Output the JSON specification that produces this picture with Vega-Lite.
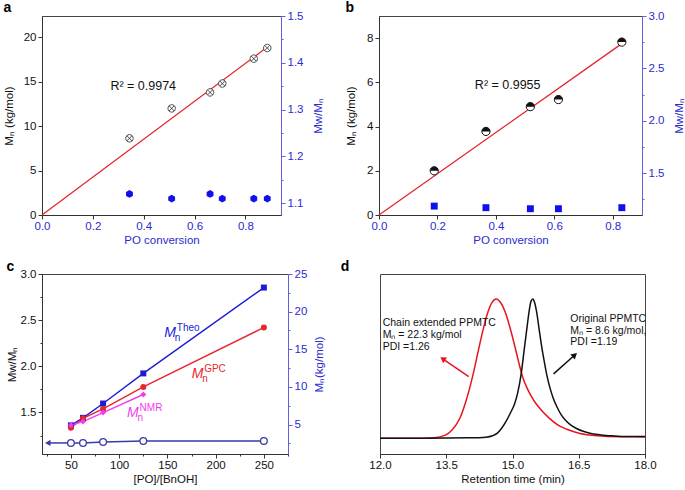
{
"$schema": "https://vega.github.io/schema/vega-lite/v6.json",
"background": "white",
"padding": {"left": 3, "top": 0, "right": 0, "bottom": 0},
"config": {
  "font": "Liberation Sans",
  "view": {"stroke": "#444", "strokeWidth": 1},
  "axis": {"grid": false, "labelFontSize": 11.5, "titleFontSize": 11.5, "titleFontWeight": "normal", "labelColor": "#111", "titleColor": "#111", "domainColor": "#333", "tickColor": "#333", "labelPadding": 2, "titlePadding": 5, "labelFlush": false, "labelOverlap": false, "tickSize": 4},
  "axisX": {"labelPadding": 1, "titlePadding": 3},
  "title": {"fontSize": 14, "fontWeight": "bold", "anchor": "start", "frame": "bounds", "baseline": "alphabetic", "color": "#000"}
},
"datasets": {
  "a_fit": [{"conv": 0, "mn": 0}, {"conv": 0.886, "mn": 18.9}],
  "a_points": [
    {"conv": 0.344, "mn": 8.63, "pdi": 1.12},
    {"conv": 0.51, "mn": 12.0, "pdi": 1.11},
    {"conv": 0.661, "mn": 13.8, "pdi": 1.12},
    {"conv": 0.709, "mn": 14.8, "pdi": 1.11},
    {"conv": 0.833, "mn": 17.6, "pdi": 1.11},
    {"conv": 0.886, "mn": 18.8, "pdi": 1.11}
  ],
  "a_text": [{"conv": 0.269, "mn": 14.5, "label": "R² = 0.9974"}],
  "b_fit": [{"conv": 0, "mn": 0}, {"conv": 0.831, "mn": 7.75}],
  "b_points": [
    {"conv": 0.189, "mn": 2.0, "pdi": 1.185},
    {"conv": 0.366, "mn": 3.78, "pdi": 1.17},
    {"conv": 0.518, "mn": 4.9, "pdi": 1.16},
    {"conv": 0.614, "mn": 5.22, "pdi": 1.16},
    {"conv": 0.831, "mn": 7.82, "pdi": 1.17}
  ],
  "b_text": [{"conv": 0.328, "mn": 5.86, "label": "R² = 0.9955"}],
  "c_mn": [
    {"ratio": 50, "mn": 4.9, "series": "Theo"},
    {"ratio": 62.5, "mn": 5.9, "series": "Theo"},
    {"ratio": 83.3, "mn": 7.8, "series": "Theo"},
    {"ratio": 125, "mn": 11.8, "series": "Theo"},
    {"ratio": 250, "mn": 23.2, "series": "Theo"},
    {"ratio": 50, "mn": 4.6, "series": "GPC"},
    {"ratio": 62.5, "mn": 5.84, "series": "GPC"},
    {"ratio": 83.3, "mn": 7.08, "series": "GPC"},
    {"ratio": 125, "mn": 10.0, "series": "GPC"},
    {"ratio": 250, "mn": 17.9, "series": "GPC"},
    {"ratio": 50, "mn": 4.95, "series": "NMR"},
    {"ratio": 62.5, "mn": 5.4, "series": "NMR"},
    {"ratio": 83.3, "mn": 6.6, "series": "NMR"},
    {"ratio": 125, "mn": 9.0, "series": "NMR"}
  ],
  "c_pdi": [
    {"ratio": 50, "pdi": 1.17},
    {"ratio": 62.5, "pdi": 1.17},
    {"ratio": 83.3, "pdi": 1.18},
    {"ratio": 125, "pdi": 1.19},
    {"ratio": 250, "pdi": 1.19}
  ],
  "c_arrow": [{"ratio": 26, "ratio2": 50, "pdi": 1.17}],
  "c_lab": [
    {"ratio": 146.8, "mn": 17.17, "series": "Theo"},
    {"ratio": 175.1, "mn": 11.72, "series": "GPC"},
    {"ratio": 108.2, "mn": 6.58, "series": "NMR"}
  ],
  "d_curves": [
    {"t": 12.0, "signal": 0, "sample": "extended"},
    {"t": 12.5, "signal": 0, "sample": "extended"},
    {"t": 13.0, "signal": 0.001, "sample": "extended"},
    {"t": 13.28, "signal": 0.006, "sample": "extended"},
    {"t": 13.43, "signal": 0.017, "sample": "extended"},
    {"t": 13.53, "signal": 0.032, "sample": "extended"},
    {"t": 13.63, "signal": 0.06, "sample": "extended"},
    {"t": 13.73, "signal": 0.1, "sample": "extended"},
    {"t": 13.83, "signal": 0.16, "sample": "extended"},
    {"t": 13.93, "signal": 0.25, "sample": "extended"},
    {"t": 14.03, "signal": 0.36, "sample": "extended"},
    {"t": 14.13, "signal": 0.49, "sample": "extended"},
    {"t": 14.23, "signal": 0.635, "sample": "extended"},
    {"t": 14.33, "signal": 0.775, "sample": "extended"},
    {"t": 14.43, "signal": 0.893, "sample": "extended"},
    {"t": 14.53, "signal": 0.972, "sample": "extended"},
    {"t": 14.63, "signal": 1.0, "sample": "extended"},
    {"t": 14.73, "signal": 0.975, "sample": "extended"},
    {"t": 14.83, "signal": 0.91, "sample": "extended"},
    {"t": 14.93, "signal": 0.81, "sample": "extended"},
    {"t": 15.03, "signal": 0.69, "sample": "extended"},
    {"t": 15.13, "signal": 0.56, "sample": "extended"},
    {"t": 15.23, "signal": 0.44, "sample": "extended"},
    {"t": 15.33, "signal": 0.36, "sample": "extended"},
    {"t": 15.43, "signal": 0.3, "sample": "extended"},
    {"t": 15.53, "signal": 0.25, "sample": "extended"},
    {"t": 15.63, "signal": 0.21, "sample": "extended"},
    {"t": 15.83, "signal": 0.145, "sample": "extended"},
    {"t": 16.03, "signal": 0.095, "sample": "extended"},
    {"t": 16.23, "signal": 0.065, "sample": "extended"},
    {"t": 16.53, "signal": 0.035, "sample": "extended"},
    {"t": 16.93, "signal": 0.018, "sample": "extended"},
    {"t": 17.43, "signal": 0.011, "sample": "extended"},
    {"t": 18.0, "signal": 0.01, "sample": "extended"},
    {"t": 12.0, "signal": 0, "sample": "original"},
    {"t": 13.0, "signal": 0, "sample": "original"},
    {"t": 14.0, "signal": 0.003, "sample": "original"},
    {"t": 14.4, "signal": 0.008, "sample": "original"},
    {"t": 14.55, "signal": 0.018, "sample": "original"},
    {"t": 14.65, "signal": 0.035, "sample": "original"},
    {"t": 14.75, "signal": 0.07, "sample": "original"},
    {"t": 14.85, "signal": 0.12, "sample": "original"},
    {"t": 14.95, "signal": 0.18, "sample": "original"},
    {"t": 15.05, "signal": 0.25, "sample": "original"},
    {"t": 15.12, "signal": 0.33, "sample": "original"},
    {"t": 15.2, "signal": 0.47, "sample": "original"},
    {"t": 15.27, "signal": 0.65, "sample": "original"},
    {"t": 15.33, "signal": 0.8, "sample": "original"},
    {"t": 15.38, "signal": 0.92, "sample": "original"},
    {"t": 15.42, "signal": 0.985, "sample": "original"},
    {"t": 15.46, "signal": 1.0, "sample": "original"},
    {"t": 15.5, "signal": 0.975, "sample": "original"},
    {"t": 15.55, "signal": 0.9, "sample": "original"},
    {"t": 15.6, "signal": 0.79, "sample": "original"},
    {"t": 15.66, "signal": 0.66, "sample": "original"},
    {"t": 15.72, "signal": 0.55, "sample": "original"},
    {"t": 15.78, "signal": 0.45, "sample": "original"},
    {"t": 15.85, "signal": 0.36, "sample": "original"},
    {"t": 15.92, "signal": 0.29, "sample": "original"},
    {"t": 16.0, "signal": 0.23, "sample": "original"},
    {"t": 16.1, "signal": 0.17, "sample": "original"},
    {"t": 16.2, "signal": 0.13, "sample": "original"},
    {"t": 16.3, "signal": 0.1, "sample": "original"},
    {"t": 16.45, "signal": 0.07, "sample": "original"},
    {"t": 16.6, "signal": 0.05, "sample": "original"},
    {"t": 16.8, "signal": 0.033, "sample": "original"},
    {"t": 17.0, "signal": 0.024, "sample": "original"},
    {"t": 17.3, "signal": 0.017, "sample": "original"},
    {"t": 17.6, "signal": 0.013, "sample": "original"},
    {"t": 18.0, "signal": 0.012, "sample": "original"}
  ],
  "d_arrows": [
    {"t": 14.01, "signal": 0.443, "t2": 13.42, "signal2": 0.571, "sample": "extended"},
    {"t": 15.93, "signal": 0.463, "t2": 16.41, "signal2": 0.598, "sample": "original"}
  ],
  "d_heads": [
    {"t": 13.42, "signal": 0.571, "sample": "extended"},
    {"t": 16.41, "signal": 0.598, "sample": "original"}
  ],
  "d_text": [
    {"t": 12.06, "signal": 0.827, "label": "Chain extended PPMTC"},
    {"t": 12.06, "signal": 0.742, "label": "Mₙ = 22.3 kg/mol"},
    {"t": 12.06, "signal": 0.658, "label": "PDI =1.26"},
    {"t": 16.31, "signal": 0.858, "label": "Original PPMTC"},
    {"t": 16.31, "signal": 0.772, "label": "Mₙ = 8.6 kg/mol,"},
    {"t": 16.31, "signal": 0.69, "label": "PDI =1.19"}
  ]
},
"resolve": {"scale": {"color": "independent", "shape": "independent"}},
"spacing": 12,
"vconcat": [
 {
  "hconcat": [
   {
    "width": 239, "height": 199,
    "title": {"text": "a", "offset": -5},
    "layer": [
     {
      "layer": [
       {
        "data": {"name": "a_fit"},
        "mark": {"type": "line", "color": "#e3262b", "strokeWidth": 1.3},
        "encoding": {
          "x": {"field": "conv", "type": "quantitative", "title": "PO conversion", "scale": {"domain": [0, 0.94], "nice": false, "zero": false},
                "axis": {"values": [0, 0.1, 0.2, 0.3, 0.4, 0.5, 0.6, 0.7, 0.8, 0.9], "labelExpr": "round(datum.value*10)%2==0 ? format(datum.value,'.1f') : ''", "tickSize": {"condition": {"test": "round(datum.value*10)%2!=0", "value": 2}, "value": 4}, "labelColor": "#2b2bd0", "titleColor": "#2b2bd0"}},
          "y": {"field": "mn", "type": "quantitative", "title": "Mₙ (kg/mol)", "scale": {"domain": [0, 22.4], "nice": false, "zero": false},
                "axis": {"values": [0, 2.5, 5, 7.5, 10, 12.5, 15, 17.5, 20], "labelExpr": "datum.value%5==0 ? format(datum.value,'d') : ''", "tickSize": {"condition": {"test": "datum.value%5!=0", "value": 2}, "value": 4}, "titlePadding": 8.7}}
        }
       },
       {
        "data": {"name": "a_points"},
        "mark": {"type": "point", "shape": "M-1,0A1,1,0,1,1,1,0A1,1,0,1,1,-1,0Z", "filled": true, "fill": "white", "stroke": "#3a3a3a", "strokeWidth": 0.9, "size": 56, "opacity": 1},
        "encoding": {
          "x": {"field": "conv", "type": "quantitative", "title": "PO conversion", "scale": {"domain": [0, 0.94], "nice": false, "zero": false}},
          "y": {"field": "mn", "type": "quantitative", "title": "Mₙ (kg/mol)", "scale": {"domain": [0, 22.4], "nice": false, "zero": false}}
        }
       },
       {
        "data": {"name": "a_points"},
        "mark": {"type": "point", "shape": "M-0.7,-0.7L0.7,0.7M-0.7,0.7L0.7,-0.7", "filled": false, "stroke": "#3a3a3a", "strokeWidth": 0.9, "size": 56, "opacity": 1},
        "encoding": {
          "x": {"field": "conv", "type": "quantitative", "title": "PO conversion", "scale": {"domain": [0, 0.94], "nice": false, "zero": false}},
          "y": {"field": "mn", "type": "quantitative", "title": "Mₙ (kg/mol)", "scale": {"domain": [0, 22.4], "nice": false, "zero": false}}
        }
       },
       {
        "data": {"name": "a_text"},
        "mark": {"type": "text", "align": "left", "baseline": "middle", "fontSize": 12.5, "color": "#111"},
        "encoding": {
          "x": {"field": "conv", "type": "quantitative", "title": "PO conversion", "scale": {"domain": [0, 0.94], "nice": false, "zero": false}},
          "y": {"field": "mn", "type": "quantitative", "title": "Mₙ (kg/mol)", "scale": {"domain": [0, 22.4], "nice": false, "zero": false}},
          "text": {"field": "label"}
        }
       }
      ]
     },
     {
      "data": {"name": "a_points"},
      "mark": {"type": "point", "shape": "M0,-1L0.87,-0.5L0.87,0.5L0,1L-0.87,0.5L-0.87,-0.5Z", "filled": true, "color": "#1010ee", "size": 62, "opacity": 1},
      "encoding": {
        "x": {"field": "conv", "type": "quantitative", "title": "PO conversion", "scale": {"domain": [0, 0.94], "nice": false, "zero": false}},
        "y": {"field": "pdi", "type": "quantitative", "title": "Mw/Mₙ", "scale": {"domain": [1.075, 1.5], "nice": false, "zero": false},
              "axis": {"orient": "right", "values": [1.1, 1.15, 1.2, 1.25, 1.3, 1.35, 1.4, 1.45, 1.5], "labelExpr": "round(datum.value*100)%10==0 ? format(datum.value,'.1f') : ''", "tickSize": {"condition": {"test": "round(datum.value*100)%10!=0", "value": 2}, "value": 4}, "labelColor": "#2b2bd0", "titleColor": "#2b2bd0", "domainColor": "#6060e0", "tickColor": "#6060e0", "titleAngle": 270, "titleBaseline": "top", "titlePadding": 10}}
      }
     }
    ],
    "resolve": {"scale": {"y": "independent"}}
   },
   {
    "width": 263, "height": 199,
    "title": {"text": "b", "offset": -5},
    "layer": [
     {
      "layer": [
       {
        "data": {"name": "b_fit"},
        "mark": {"type": "line", "color": "#e3262b", "strokeWidth": 1.3},
        "encoding": {
          "x": {"field": "conv", "type": "quantitative", "title": "PO conversion", "scale": {"domain": [0, 0.9], "nice": false, "zero": false},
                "axis": {"values": [0, 0.1, 0.2, 0.3, 0.4, 0.5, 0.6, 0.7, 0.8], "labelExpr": "round(datum.value*10)%2==0 ? format(datum.value,'.1f') : ''", "tickSize": {"condition": {"test": "round(datum.value*10)%2!=0", "value": 2}, "value": 4}, "labelColor": "#2b2bd0", "titleColor": "#2b2bd0"}},
          "y": {"field": "mn", "type": "quantitative", "title": "Mₙ (kg/mol)", "scale": {"domain": [0, 9], "nice": false, "zero": false},
                "axis": {"values": [0, 1, 2, 3, 4, 5, 6, 7, 8], "labelExpr": "datum.value%2==0 ? format(datum.value,'d') : ''", "tickSize": {"condition": {"test": "datum.value%2!=0", "value": 2}, "value": 4}, "titlePadding": 10}}
        }
       },
       {
        "data": {"name": "b_points"},
        "mark": {"type": "point", "shape": "M-1,0A1,1,0,1,1,1,0A1,1,0,1,1,-1,0Z", "filled": true, "fill": "white", "stroke": "#111", "strokeWidth": 1, "size": 68, "opacity": 1},
        "encoding": {
          "x": {"field": "conv", "type": "quantitative", "title": "PO conversion", "scale": {"domain": [0, 0.9], "nice": false, "zero": false}},
          "y": {"field": "mn", "type": "quantitative", "title": "Mₙ (kg/mol)", "scale": {"domain": [0, 9], "nice": false, "zero": false}}
        }
       },
       {
        "data": {"name": "b_points"},
        "mark": {"type": "point", "shape": "M-1,0A1,1,0,0,1,1,0Z", "filled": true, "color": "#111", "size": 68, "opacity": 1},
        "encoding": {
          "x": {"field": "conv", "type": "quantitative", "title": "PO conversion", "scale": {"domain": [0, 0.9], "nice": false, "zero": false}},
          "y": {"field": "mn", "type": "quantitative", "title": "Mₙ (kg/mol)", "scale": {"domain": [0, 9], "nice": false, "zero": false}}
        }
       },
       {
        "data": {"name": "b_text"},
        "mark": {"type": "text", "align": "left", "baseline": "middle", "fontSize": 12.5, "color": "#111"},
        "encoding": {
          "x": {"field": "conv", "type": "quantitative", "title": "PO conversion", "scale": {"domain": [0, 0.9], "nice": false, "zero": false}},
          "y": {"field": "mn", "type": "quantitative", "title": "Mₙ (kg/mol)", "scale": {"domain": [0, 9], "nice": false, "zero": false}},
          "text": {"field": "label"}
        }
       }
      ]
     },
     {
      "data": {"name": "b_points"},
      "mark": {"type": "point", "shape": "square", "filled": true, "color": "#1010ee", "size": 48, "opacity": 1},
      "encoding": {
        "x": {"field": "conv", "type": "quantitative", "title": "PO conversion", "scale": {"domain": [0, 0.9], "nice": false, "zero": false}},
        "y": {"field": "pdi", "type": "quantitative", "title": "Mw/Mₙ", "scale": {"domain": [1.1, 3.0], "nice": false, "zero": false},
              "axis": {"orient": "right", "values": [1.25, 1.5, 1.75, 2.0, 2.25, 2.5, 2.75, 3.0], "labelExpr": "round(datum.value*100)%50==0 ? format(datum.value,'.1f') : ''", "tickSize": {"condition": {"test": "round(datum.value*100)%50!=0", "value": 2}, "value": 4}, "labelColor": "#2b2bd0", "titleColor": "#2b2bd0", "domainColor": "#6060e0", "tickColor": "#6060e0", "titleAngle": 270, "titleBaseline": "top", "titlePadding": 10}}
      }
     }
    ],
    "resolve": {"scale": {"y": "independent"}}
   }
  ],
  "spacing": 98,
  "bounds": "flush",
  "resolve": {"scale": {"color": "independent", "shape": "independent"}}
 },
 {
  "hconcat": [
   {
    "width": 246, "height": 180,
    "title": {"text": "c", "offset": -6},
    "layer": [
     {
      "layer": [
       {
        "data": {"name": "c_pdi"},
        "mark": {"type": "line", "color": "#3a3aa8", "strokeWidth": 1.5},
        "encoding": {
          "x": {"field": "ratio", "type": "quantitative", "title": "[PO]/[BnOH]", "scale": {"domain": [20, 275], "nice": false, "zero": false},
                "axis": {"values": [25, 50, 75, 100, 125, 150, 175, 200, 225, 250, 275], "format": "d", "labelExpr": "datum.value % 50 == 0 ? datum.label : ''", "tickSize": {"condition": {"test": "datum.value%50!=0", "value": 2}, "value": 4}}},
          "y": {"field": "pdi", "type": "quantitative", "title": "Mw/Mₙ", "scale": {"domain": [1.05, 3.0], "nice": false, "zero": false},
                "axis": {"values": [1.25, 1.5, 1.75, 2.0, 2.25, 2.5, 2.75, 3.0], "format": ".1f", "labelExpr": "round(datum.value*100) % 50 == 0 ? datum.label : ''", "tickSize": {"condition": {"test": "round(datum.value*100)%50!=0", "value": 2}, "value": 4}, "titlePadding": 2.5}}
        }
       },
       {
        "data": {"name": "c_arrow"},
        "mark": {"type": "rule", "color": "#3a3aa8", "strokeWidth": 1.5},
        "encoding": {
          "x": {"field": "ratio", "type": "quantitative", "title": "[PO]/[BnOH]", "scale": {"domain": [20, 275], "nice": false, "zero": false},
                "axis": {"values": [25, 50, 75, 100, 125, 150, 175, 200, 225, 250, 275], "format": "d", "labelExpr": "datum.value % 50 == 0 ? datum.label : ''", "tickSize": {"condition": {"test": "datum.value%50!=0", "value": 2}, "value": 4}}},
          "x2": {"field": "ratio2"},
          "y": {"field": "pdi", "type": "quantitative", "title": "Mw/Mₙ", "scale": {"domain": [1.05, 3.0], "nice": false, "zero": false},
                "axis": {"values": [1.25, 1.5, 1.75, 2.0, 2.25, 2.5, 2.75, 3.0], "format": ".1f", "labelExpr": "round(datum.value*100) % 50 == 0 ? datum.label : ''", "tickSize": {"condition": {"test": "round(datum.value*100)%50!=0", "value": 2}, "value": 4}, "titlePadding": 2.5}}
        }
       },
       {
        "data": {"name": "c_arrow"},
        "mark": {"type": "point", "shape": "triangle-left", "filled": true, "color": "#3a3aa8", "size": 40, "opacity": 1},
        "encoding": {
          "x": {"field": "ratio", "type": "quantitative", "title": "[PO]/[BnOH]", "scale": {"domain": [20, 275], "nice": false, "zero": false},
                "axis": {"values": [25, 50, 75, 100, 125, 150, 175, 200, 225, 250, 275], "format": "d", "labelExpr": "datum.value % 50 == 0 ? datum.label : ''", "tickSize": {"condition": {"test": "datum.value%50!=0", "value": 2}, "value": 4}}},
          "y": {"field": "pdi", "type": "quantitative", "title": "Mw/Mₙ", "scale": {"domain": [1.05, 3.0], "nice": false, "zero": false},
                "axis": {"values": [1.25, 1.5, 1.75, 2.0, 2.25, 2.5, 2.75, 3.0], "format": ".1f", "labelExpr": "round(datum.value*100) % 50 == 0 ? datum.label : ''", "tickSize": {"condition": {"test": "round(datum.value*100)%50!=0", "value": 2}, "value": 4}, "titlePadding": 2.5}}
        }
       },
       {
        "data": {"name": "c_pdi"},
        "mark": {"type": "point", "shape": "circle", "filled": true, "fill": "white", "stroke": "#3a3aa8", "strokeWidth": 1.3, "size": 45, "opacity": 1},
        "encoding": {
          "x": {"field": "ratio", "type": "quantitative", "title": "[PO]/[BnOH]", "scale": {"domain": [20, 275], "nice": false, "zero": false},
                "axis": {"values": [25, 50, 75, 100, 125, 150, 175, 200, 225, 250, 275], "format": "d", "labelExpr": "datum.value % 50 == 0 ? datum.label : ''", "tickSize": {"condition": {"test": "datum.value%50!=0", "value": 2}, "value": 4}}},
          "y": {"field": "pdi", "type": "quantitative", "title": "Mw/Mₙ", "scale": {"domain": [1.05, 3.0], "nice": false, "zero": false},
                "axis": {"values": [1.25, 1.5, 1.75, 2.0, 2.25, 2.5, 2.75, 3.0], "format": ".1f", "labelExpr": "round(datum.value*100) % 50 == 0 ? datum.label : ''", "tickSize": {"condition": {"test": "round(datum.value*100)%50!=0", "value": 2}, "value": 4}, "titlePadding": 2.5}}
        }
       }
      ]
     },
     {
      "layer": [
       {
        "data": {"name": "c_mn"},
        "mark": {"type": "line", "strokeWidth": 1.4},
        "encoding": {
          "x": {"field": "ratio", "type": "quantitative", "title": "[PO]/[BnOH]", "scale": {"domain": [20, 275], "nice": false, "zero": false},
                "axis": {"values": [25, 50, 75, 100, 125, 150, 175, 200, 225, 250, 275], "format": "d", "labelExpr": "datum.value % 50 == 0 ? datum.label : ''", "tickSize": {"condition": {"test": "datum.value%50!=0", "value": 2}, "value": 4}}},
          "y": {"field": "mn", "type": "quantitative", "title": "Mₙ(kg/mol)", "scale": {"domain": [1.1, 25], "nice": false, "zero": false},
                "axis": {"orient": "right", "values": [2.5, 5, 7.5, 10, 12.5, 15, 17.5, 20, 22.5, 25], "format": "d", "labelExpr": "datum.value % 5 == 0 ? datum.label : ''", "tickSize": {"condition": {"test": "datum.value%5!=0", "value": 2}, "value": 4}, "labelColor": "#2b2bd0", "titleColor": "#2b2bd0", "domainColor": "#6060e0", "tickColor": "#6060e0", "titleAngle": 270, "titleBaseline": "top", "titlePadding": 7}},
          "color": {"field": "series", "type": "nominal", "scale": {"domain": ["Theo", "GPC", "NMR"], "range": ["#1c1cd6", "#e8262e", "#f03cf0"]}, "legend": null}
        }
       },
       {
        "data": {"name": "c_mn"},
        "mark": {"type": "point", "filled": true, "size": 36, "opacity": 1},
        "encoding": {
          "x": {"field": "ratio", "type": "quantitative", "title": "[PO]/[BnOH]", "scale": {"domain": [20, 275], "nice": false, "zero": false},
                "axis": {"values": [25, 50, 75, 100, 125, 150, 175, 200, 225, 250, 275], "format": "d", "labelExpr": "datum.value % 50 == 0 ? datum.label : ''", "tickSize": {"condition": {"test": "datum.value%50!=0", "value": 2}, "value": 4}}},
          "y": {"field": "mn", "type": "quantitative", "title": "Mₙ(kg/mol)", "scale": {"domain": [1.1, 25], "nice": false, "zero": false},
                "axis": {"orient": "right", "values": [2.5, 5, 7.5, 10, 12.5, 15, 17.5, 20, 22.5, 25], "format": "d", "labelExpr": "datum.value % 5 == 0 ? datum.label : ''", "tickSize": {"condition": {"test": "datum.value%5!=0", "value": 2}, "value": 4}, "labelColor": "#2b2bd0", "titleColor": "#2b2bd0", "domainColor": "#6060e0", "tickColor": "#6060e0", "titleAngle": 270, "titleBaseline": "top", "titlePadding": 7}},
          "color": {"field": "series", "type": "nominal", "scale": {"domain": ["Theo", "GPC", "NMR"], "range": ["#1c1cd6", "#e8262e", "#f03cf0"]}, "legend": null},
          "shape": {"field": "series", "type": "nominal", "scale": {"domain": ["Theo", "GPC", "NMR"], "range": ["square", "circle", "diamond"]}, "legend": null}
        }
       },
       {
        "data": {"name": "c_lab"},
        "mark": {"type": "text", "text": "M", "align": "left", "baseline": "middle", "fontSize": 14, "fontStyle": "italic"},
        "encoding": {
          "x": {"field": "ratio", "type": "quantitative", "title": "[PO]/[BnOH]", "scale": {"domain": [20, 275], "nice": false, "zero": false},
                "axis": {"values": [25, 50, 75, 100, 125, 150, 175, 200, 225, 250, 275], "format": "d", "labelExpr": "datum.value % 50 == 0 ? datum.label : ''", "tickSize": {"condition": {"test": "datum.value%50!=0", "value": 2}, "value": 4}}},
          "y": {"field": "mn", "type": "quantitative", "title": "Mₙ(kg/mol)", "scale": {"domain": [1.1, 25], "nice": false, "zero": false},
                "axis": {"orient": "right", "values": [2.5, 5, 7.5, 10, 12.5, 15, 17.5, 20, 22.5, 25], "format": "d", "labelExpr": "datum.value % 5 == 0 ? datum.label : ''", "tickSize": {"condition": {"test": "datum.value%5!=0", "value": 2}, "value": 4}, "labelColor": "#2b2bd0", "titleColor": "#2b2bd0", "domainColor": "#6060e0", "tickColor": "#6060e0", "titleAngle": 270, "titleBaseline": "top", "titlePadding": 7}},
          "color": {"field": "series", "type": "nominal", "scale": {"domain": ["Theo", "GPC", "NMR"], "range": ["#1c1cd6", "#e8262e", "#f03cf0"]}, "legend": null}
        }
       },
       {
        "data": {"name": "c_lab"},
        "mark": {"type": "text", "text": "n", "align": "left", "baseline": "middle", "fontSize": 10, "dx": 10.5, "dy": 5},
        "encoding": {
          "x": {"field": "ratio", "type": "quantitative", "title": "[PO]/[BnOH]", "scale": {"domain": [20, 275], "nice": false, "zero": false},
                "axis": {"values": [25, 50, 75, 100, 125, 150, 175, 200, 225, 250, 275], "format": "d", "labelExpr": "datum.value % 50 == 0 ? datum.label : ''", "tickSize": {"condition": {"test": "datum.value%50!=0", "value": 2}, "value": 4}}},
          "y": {"field": "mn", "type": "quantitative", "title": "Mₙ(kg/mol)", "scale": {"domain": [1.1, 25], "nice": false, "zero": false},
                "axis": {"orient": "right", "values": [2.5, 5, 7.5, 10, 12.5, 15, 17.5, 20, 22.5, 25], "format": "d", "labelExpr": "datum.value % 5 == 0 ? datum.label : ''", "tickSize": {"condition": {"test": "datum.value%5!=0", "value": 2}, "value": 4}, "labelColor": "#2b2bd0", "titleColor": "#2b2bd0", "domainColor": "#6060e0", "tickColor": "#6060e0", "titleAngle": 270, "titleBaseline": "top", "titlePadding": 7}},
          "color": {"field": "series", "type": "nominal", "scale": {"domain": ["Theo", "GPC", "NMR"], "range": ["#1c1cd6", "#e8262e", "#f03cf0"]}, "legend": null}
        }
       },
       {
        "data": {"name": "c_lab"},
        "mark": {"type": "text", "align": "left", "baseline": "middle", "fontSize": 10, "dx": 12.5, "dy": -5},
        "encoding": {
          "x": {"field": "ratio", "type": "quantitative", "title": "[PO]/[BnOH]", "scale": {"domain": [20, 275], "nice": false, "zero": false},
                "axis": {"values": [25, 50, 75, 100, 125, 150, 175, 200, 225, 250, 275], "format": "d", "labelExpr": "datum.value % 50 == 0 ? datum.label : ''", "tickSize": {"condition": {"test": "datum.value%50!=0", "value": 2}, "value": 4}}},
          "y": {"field": "mn", "type": "quantitative", "title": "Mₙ(kg/mol)", "scale": {"domain": [1.1, 25], "nice": false, "zero": false},
                "axis": {"orient": "right", "values": [2.5, 5, 7.5, 10, 12.5, 15, 17.5, 20, 22.5, 25], "format": "d", "labelExpr": "datum.value % 5 == 0 ? datum.label : ''", "tickSize": {"condition": {"test": "datum.value%5!=0", "value": 2}, "value": 4}, "labelColor": "#2b2bd0", "titleColor": "#2b2bd0", "domainColor": "#6060e0", "tickColor": "#6060e0", "titleAngle": 270, "titleBaseline": "top", "titlePadding": 7}},
          "text": {"field": "series"},
          "color": {"field": "series", "type": "nominal", "scale": {"domain": ["Theo", "GPC", "NMR"], "range": ["#1c1cd6", "#e8262e", "#f03cf0"]}, "legend": null}
        }
       }
      ]
     }
    ],
    "resolve": {"scale": {"y": "independent"}}
   },
   {
    "width": 265, "height": 180,
    "title": {"text": "d", "offset": 0, "dx": -28},
    "layer": [
     {
      "data": {"name": "d_curves"},
      "mark": {"type": "line", "strokeWidth": 1.5, "interpolate": "monotone"},
      "encoding": {
        "x": {"field": "t", "type": "quantitative", "title": "Retention time (min)", "scale": {"domain": [12, 18], "nice": false, "zero": false},
              "axis": {"values": [12, 12.75, 13.5, 14.25, 15, 15.75, 16.5, 17.25, 18], "labelExpr": "datum.value%1.5==0 ? format(datum.value,'.1f') : ''", "tickSize": {"condition": {"test": "datum.value%1.5!=0", "value": 2}, "value": 4}}},
        "y": {"field": "signal", "type": "quantitative", "scale": {"domain": [-0.113, 1.18], "nice": false, "zero": false}, "axis": null},
        "color": {"field": "sample", "type": "nominal", "scale": {"domain": ["extended", "original"], "range": ["#e8141c", "#111111"]}, "legend": null}
      }
     },
     {
      "data": {"name": "d_arrows"},
      "mark": {"type": "rule", "strokeWidth": 1.5},
      "encoding": {
        "x": {"field": "t", "type": "quantitative", "title": "Retention time (min)", "scale": {"domain": [12, 18], "nice": false, "zero": false}},
        "y": {"field": "signal", "type": "quantitative", "scale": {"domain": [-0.113, 1.18], "nice": false, "zero": false}, "axis": null},
        "x2": {"field": "t2"},
        "y2": {"field": "signal2"},
        "color": {"field": "sample", "type": "nominal", "scale": {"domain": ["extended", "original"], "range": ["#e8141c", "#111111"]}, "legend": null}
      }
     },
     {
      "data": {"name": "d_heads"},
      "transform": [{"filter": "datum.sample == 'extended'"}],
      "mark": {"type": "point", "shape": "triangle-up", "filled": true, "size": 45, "angle": 304, "opacity": 1},
      "encoding": {
        "x": {"field": "t", "type": "quantitative", "title": "Retention time (min)", "scale": {"domain": [12, 18], "nice": false, "zero": false}},
        "y": {"field": "signal", "type": "quantitative", "scale": {"domain": [-0.113, 1.18], "nice": false, "zero": false}, "axis": null},
        "color": {"field": "sample", "type": "nominal", "scale": {"domain": ["extended", "original"], "range": ["#e8141c", "#111111"]}, "legend": null}
      }
     },
     {
      "data": {"name": "d_heads"},
      "transform": [{"filter": "datum.sample == 'original'"}],
      "mark": {"type": "point", "shape": "triangle-up", "filled": true, "size": 45, "angle": 49, "opacity": 1},
      "encoding": {
        "x": {"field": "t", "type": "quantitative", "title": "Retention time (min)", "scale": {"domain": [12, 18], "nice": false, "zero": false}},
        "y": {"field": "signal", "type": "quantitative", "scale": {"domain": [-0.113, 1.18], "nice": false, "zero": false}, "axis": null},
        "color": {"field": "sample", "type": "nominal", "scale": {"domain": ["extended", "original"], "range": ["#e8141c", "#111111"]}, "legend": null}
      }
     },
     {
      "data": {"name": "d_text"},
      "mark": {"type": "text", "align": "left", "baseline": "middle", "fontSize": 10.5, "color": "#111"},
      "encoding": {
        "x": {"field": "t", "type": "quantitative", "title": "Retention time (min)", "scale": {"domain": [12, 18], "nice": false, "zero": false}},
        "y": {"field": "signal", "type": "quantitative", "scale": {"domain": [-0.113, 1.18], "nice": false, "zero": false}, "axis": null},
        "text": {"field": "label"}
      }
     }
    ]
   }
  ],
  "spacing": 92,
  "bounds": "flush",
  "resolve": {"scale": {"color": "independent", "shape": "independent"}}
 }
]
}
